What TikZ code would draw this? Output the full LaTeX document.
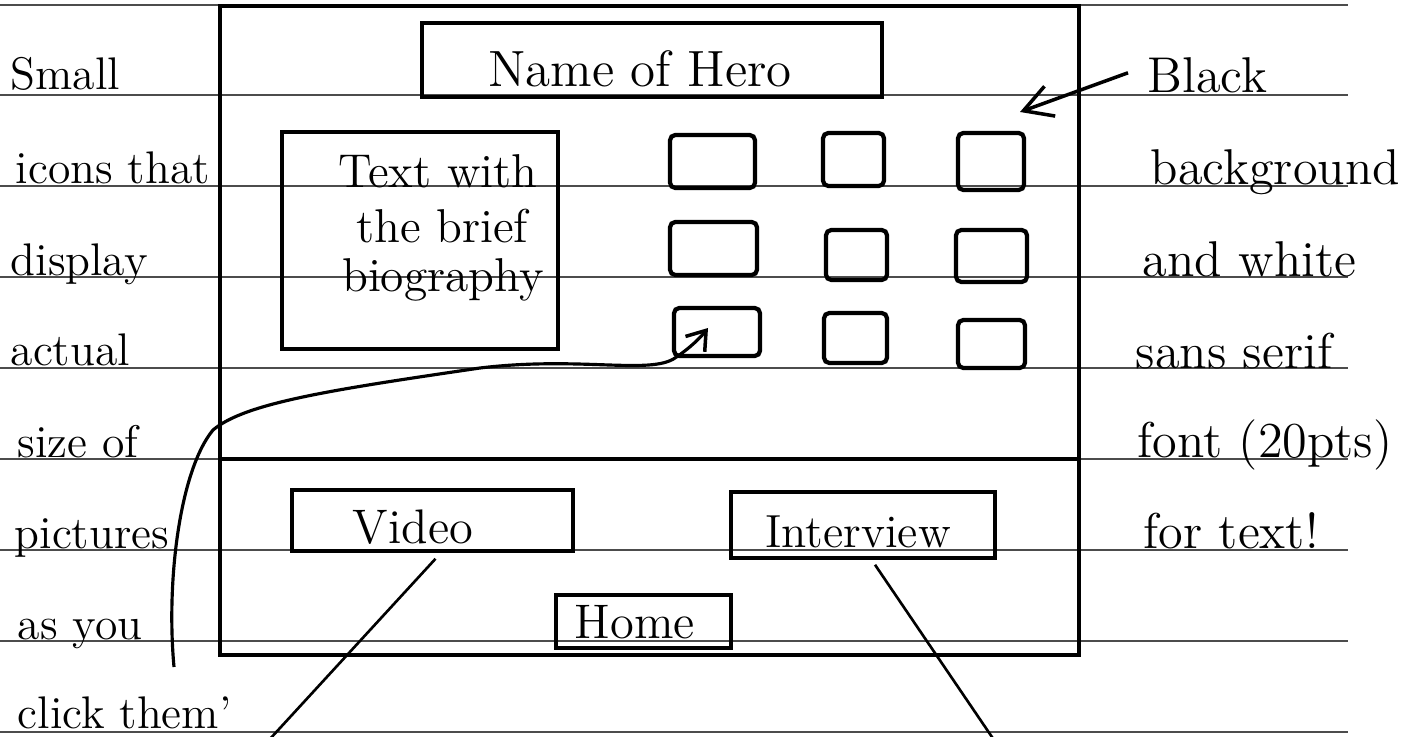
\documentclass[tikz,border=0pt]{standalone}
\usetikzlibrary{arrows.meta,fit,calc}
\begin{document}
\begin{tikzpicture}[x=0.01cm,y=-0.01cm,
  ruling/.style={line width=0.45pt, black!70},
  box/.style={draw, line width=1pt, inner sep=0pt},
  iconbox/.style={draw, line width=1.2pt, inner sep=0pt, rounded corners=1.5pt},
  ltxt/.style={inner sep=0pt, anchor=base west, font=\fontsize{13}{16}\selectfont},
  rtxt/.style={inner sep=0pt, anchor=base west, font=\fontsize{14.3}{17}\selectfont},
  ctxt/.style={inner sep=0pt, anchor=base, font=\fontsize{14}{16}\selectfont},
  conn/.style={line width=0.75pt},
  barb/.style={line width=1pt, -{Straight Barb[length=8pt,width=9pt,line width=1pt]}},
  cbarb/.style={line width=0.9pt, -{Straight Barb[length=5pt,width=7pt,line width=1pt]}}]
\useasboundingbox (0,0) rectangle (1422,737);
% ruled paper lines
\foreach \yy in {5,95,186,277,368,459,550,641,732}
  \draw[ruling] (0,\yy) -- (1348,\yy);
% main frame
\node[box, fit={(220,6) (1079,655)}] (frame) {};
\draw[line width=1pt] (frame.west |- 0,459) -- (frame.east |- 0,459);
% title
\node[box, fit={(422,23) (882,97)}] (namebox) {};
\node[ctxt, font=\fontsize{14.5}{17}\selectfont] (nametxt) at (640,87) {Name of Hero};
% biography
\node[box, fit={(282,132) (558,349)}] (biobox) {};
\node[ctxt, font=\fontsize{13.5}{16}\selectfont] (bio1) at (438,188) {Text with};
\node[ctxt, font=\fontsize{13.5}{16}\selectfont] (bio2) at (442,243) {the brief};
\node[ctxt, font=\fontsize{13.5}{16}\selectfont] (bio3) at (443,292) {biography};
% icons
\node[iconbox, fit={(670,135) (755,188)}] (i11) {};
\node[iconbox, fit={(823,133) (884,186)}] (i12) {};
\node[iconbox, fit={(958,133) (1024,190)}] (i13) {};
\node[iconbox, fit={(670,222) (757,275)}] (i21) {};
\node[iconbox, fit={(826,230) (887,280)}] (i22) {};
\node[iconbox, fit={(956,230) (1027,282)}] (i23) {};
\node[iconbox, fit={(674,308) (760,356)}] (i31) {};
\node[iconbox, fit={(824,313) (887,363)}] (i32) {};
\node[iconbox, fit={(958,320) (1025,368)}] (i33) {};
% buttons
\node[box, fit={(292,490) (573,551)}] (video) {};
\node[ctxt, font=\fontsize{13.8}{16}\selectfont] (videotxt) at (413,543) {Video};
\node[box, fit={(731,492) (995,558)}] (interview) {};
\node[ctxt, font=\fontsize{13.2}{15}\selectfont] (interviewtxt) at (858,547) {Interview};
\node[box, fit={(556,595) (731,648)}] (home) {};
\node[ctxt, font=\fontsize{13.8}{16}\selectfont] (hometxt) at (635,638) {Home};
% left notes
\node[ltxt] (l1) at (10,90) {Small};
\node[ltxt] (l2) at (15,184) {icons that};
\node[ltxt] (l3) at (10,275) {display};
\node[ltxt] (l4) at (10,366) {actual};
\node[ltxt] (l5) at (17,457) {size of};
\node[ltxt] (l6) at (14,548) {pictures};
\node[ltxt] (l7) at (17,639) {as you};
\node[ltxt] (l8) at (17,728) {click them'};
% right notes
\node[rtxt] (black) at (1147,93) {Black};
\node[rtxt] (r2) at (1150,185) {background};
\node[rtxt] (r3) at (1142,277) {and white};
\node[rtxt] (r4) at (1135,368) {sans serif};
\node[rtxt] (r5) at (1137,457) {font (20pts)};
\node[rtxt] (r6) at (1143,548) {for text!};
% connectors
\coordinate (btip) at (1020,112);
\draw[barb] ($(black.west)+(-19,-3)$) -- (btip);
\coordinate (cstart) at (174,667);
\coordinate (ctip) at (708,328);
\draw[cbarb] (cstart) .. controls (166,580) and (180,470) .. (213,430)
  .. controls (245,403) and (330,390) .. (480,368)
  .. controls (580,356) and (650,375) .. (675,358)
  .. controls (690,348) and (700,338) .. (ctip);
\coordinate (vend) at (269,740);
\draw[conn] ($(video.south)+(3,6)$) -- (vend);
\coordinate (iend) at (994,740);
\draw[conn] ($(interview.south)+(12,5)$) -- (iend);
\end{tikzpicture}
\end{document}
